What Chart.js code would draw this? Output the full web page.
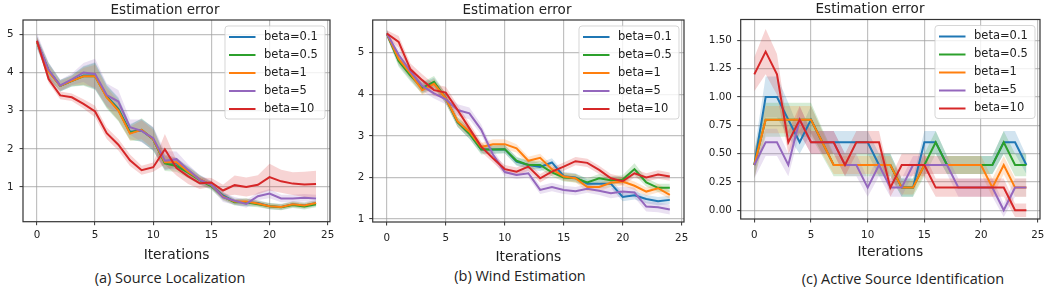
<!DOCTYPE html>
<html><head><meta charset="utf-8">
<script src="https://cdn.jsdelivr.net/npm/chart.js@4.4.1/dist/chart.umd.min.js"></script>
<style>
body{margin:0;background:#fff;width:1051px;height:298px;overflow:hidden;position:relative}
canvas{position:absolute;top:0}
.cap{position:absolute;font-family:'Open Sans',sans-serif;font-size:14.5px;color:#222;text-align:center;width:400px;line-height:20px;white-space:nowrap}
</style></head><body>
<canvas id="ca" width="350" height="266" style="left:0px"></canvas>
<canvas id="cb" width="350" height="266" style="left:350px"></canvas>
<canvas id="cc" width="351" height="266" style="left:700px"></canvas>
<div class="cap" style="left:-30px;top:268px">(a) Source Localization</div>
<div class="cap" style="left:320px;top:266px">(b) Wind Estimation</div>
<div class="cap" style="left:703px;top:269px">(c) Active Source Identification</div>
<script>
// ---------------- data ----------------
const iterations = [0,1,2,3,4,5,6,7,8,9,10,11,12,13,14,15,16,17,18,19,20,21,22,23,24];
const seriesNames = ['beta=0.1','beta=0.5','beta=1','beta=5','beta=10'];
const xTicks = [0,5,10,15,20,25];
const yTicksA = [1,2,3,4,5];
const yTicksB = [1,2,3,4,5];
const yTicksC = [0,0.25,0.5,0.75,1,1.25,1.5];
const yTickLabelsC = ['0.00','0.25','0.50','0.75','1.00','1.25','1.50'];

// (a) Source Localization
const aBlue   = [4.80,4.05,3.65,3.78,3.92,3.92,3.38,3.05,2.45,2.48,2.25,1.65,1.62,1.40,1.20,1.05,0.78,0.62,0.60,0.58,0.50,0.48,0.55,0.52,0.58];
const aGreen  = [4.80,4.05,3.65,3.78,3.90,3.90,3.36,3.02,2.42,2.50,2.25,1.62,1.55,1.38,1.18,1.02,0.75,0.60,0.60,0.55,0.50,0.47,0.53,0.49,0.55];
const aOrange = [4.80,4.02,3.65,3.78,3.90,3.90,3.35,3.00,2.40,2.50,2.25,1.65,1.65,1.40,1.20,1.05,0.75,0.62,0.62,0.57,0.50,0.48,0.55,0.52,0.58];
const aPurple = [4.83,4.07,3.66,3.82,4.00,3.96,3.41,3.24,2.57,2.47,2.28,1.69,1.73,1.45,1.19,1.06,0.73,0.64,0.56,0.76,0.83,0.70,0.70,0.72,0.70];
const aRed    = [4.83,3.83,3.40,3.35,3.18,2.98,2.41,2.11,1.70,1.44,1.52,1.99,1.50,1.28,1.10,1.12,0.91,1.05,1.00,1.06,1.26,1.15,1.09,1.07,1.08];
const aBlueStd   = [0.15,0.20,0.15,0.15,0.25,0.35,0.30,0.30,0.20,0.30,0.30,0.20,0.15,0.15,0.12,0.10,0.10,0.08,0.10,0.08,0.08,0.08,0.08,0.08,0.08];
const aGreenStd  = [0.15,0.20,0.15,0.15,0.25,0.35,0.30,0.30,0.20,0.30,0.30,0.20,0.15,0.15,0.12,0.10,0.10,0.08,0.10,0.08,0.08,0.08,0.08,0.08,0.08];
const aOrangeStd = [0.12,0.18,0.12,0.12,0.22,0.30,0.25,0.25,0.18,0.25,0.25,0.18,0.12,0.12,0.10,0.08,0.08,0.07,0.08,0.07,0.07,0.07,0.07,0.07,0.07];
const aPurpleStd = [0.20,0.20,0.15,0.15,0.25,0.40,0.30,0.30,0.20,0.30,0.30,0.25,0.20,0.15,0.12,0.10,0.12,0.10,0.10,0.10,0.12,0.10,0.10,0.10,0.10];
const aRedStd    = [0.10,0.10,0.10,0.10,0.12,0.15,0.15,0.15,0.15,0.12,0.12,0.40,0.20,0.20,0.15,0.12,0.15,0.25,0.25,0.25,0.35,0.30,0.30,0.33,0.35];

// (b) Wind Estimation
const bBlue   = [5.46,4.82,4.47,4.15,4.28,3.90,3.33,3.05,2.68,2.67,2.68,2.38,2.30,2.25,2.36,2.03,2.00,1.85,1.85,1.85,1.53,1.57,1.48,1.43,1.46];
const bGreen  = [5.46,4.80,4.45,4.15,4.30,3.90,3.33,3.05,2.67,2.67,2.68,2.40,2.30,2.30,2.12,2.00,1.98,1.88,1.98,1.93,1.95,2.20,1.88,1.75,1.75];
const bOrange = [5.46,4.85,4.50,4.10,4.25,3.90,3.35,3.10,2.73,2.80,2.80,2.70,2.40,2.47,2.20,2.02,1.98,1.77,1.77,1.87,1.90,1.80,1.66,1.74,1.58];
const bPurple = [5.46,4.95,4.55,4.20,4.02,3.88,3.62,3.54,3.15,2.55,2.13,2.06,2.10,1.70,1.77,1.70,1.67,1.73,1.68,1.62,1.66,1.64,1.30,1.28,1.23];
const bRed    = [5.46,5.26,4.60,4.34,4.10,4.04,3.62,3.18,2.74,2.46,2.20,2.14,2.26,1.98,2.14,2.26,2.39,2.35,2.18,1.98,1.91,2.10,2.00,2.07,2.02];
const bBlueStd   = [0.08,0.12,0.12,0.12,0.12,0.12,0.12,0.12,0.10,0.10,0.10,0.10,0.10,0.10,0.10,0.10,0.10,0.10,0.10,0.10,0.10,0.10,0.10,0.10,0.10];
const bGreenStd  = [0.08,0.14,0.14,0.14,0.14,0.12,0.12,0.12,0.12,0.10,0.10,0.10,0.10,0.10,0.10,0.10,0.10,0.10,0.10,0.10,0.10,0.14,0.10,0.10,0.10];
const bOrangeStd = [0.08,0.12,0.12,0.12,0.12,0.12,0.12,0.12,0.10,0.12,0.12,0.10,0.10,0.10,0.10,0.10,0.10,0.10,0.10,0.10,0.10,0.10,0.10,0.10,0.10];
const bPurpleStd = [0.10,0.12,0.12,0.12,0.12,0.12,0.14,0.14,0.12,0.12,0.10,0.10,0.10,0.10,0.10,0.10,0.10,0.10,0.10,0.12,0.12,0.12,0.12,0.12,0.12];
const bRedStd    = [0.08,0.14,0.14,0.14,0.14,0.14,0.12,0.12,0.12,0.10,0.10,0.10,0.10,0.10,0.10,0.10,0.10,0.10,0.10,0.10,0.10,0.10,0.10,0.10,0.10];

// (c) Active Source Identification
const cBlue   = [0.4,1.0,1.0,0.8,0.6,0.8,0.6,0.6,0.6,0.6,0.6,0.4,0.4,0.2,0.2,0.6,0.6,0.4,0.4,0.4,0.4,0.4,0.6,0.6,0.4];
const cGreen  = [0.4,0.8,0.8,0.8,0.8,0.8,0.6,0.4,0.4,0.4,0.4,0.4,0.4,0.2,0.2,0.4,0.6,0.4,0.4,0.4,0.4,0.4,0.6,0.4,0.4];
const cOrange = [0.4,0.8,0.8,0.8,0.8,0.8,0.6,0.4,0.4,0.4,0.4,0.4,0.4,0.2,0.2,0.4,0.4,0.4,0.4,0.4,0.4,0.2,0.4,0.2,0.2];
const cPurple = [0.4,0.6,0.6,0.4,0.8,0.6,0.6,0.6,0.4,0.4,0.2,0.4,0.2,0.2,0.4,0.4,0.4,0.4,0.2,0.2,0.2,0.2,0.0,0.2,0.2];
const cRed    = [1.2,1.4,1.2,0.6,0.8,0.6,0.6,0.6,0.4,0.6,0.6,0.6,0.2,0.4,0.4,0.4,0.2,0.2,0.2,0.2,0.2,0.2,0.2,0.0,0.0];
const cBlueStd   = [0.12,0.18,0.18,0.15,0.10,0.12,0.10,0.10,0.10,0.10,0.10,0.10,0.10,0.08,0.08,0.10,0.10,0.08,0.08,0.08,0.08,0.08,0.10,0.10,0.08];
const cGreenStd  = [0.12,0.15,0.15,0.15,0.15,0.15,0.12,0.10,0.10,0.10,0.10,0.10,0.10,0.08,0.08,0.10,0.10,0.08,0.08,0.08,0.08,0.08,0.10,0.10,0.10];
const cOrangeStd = [0.12,0.12,0.12,0.12,0.12,0.12,0.10,0.08,0.08,0.08,0.08,0.08,0.08,0.06,0.06,0.08,0.08,0.08,0.08,0.08,0.08,0.08,0.08,0.08,0.08];
const cPurpleStd = [0.12,0.12,0.12,0.10,0.12,0.10,0.10,0.10,0.10,0.10,0.08,0.10,0.08,0.08,0.08,0.08,0.08,0.08,0.08,0.08,0.08,0.08,0.06,0.08,0.08];
const cRedStd    = [0.15,0.20,0.18,0.10,0.12,0.10,0.10,0.10,0.10,0.10,0.10,0.10,0.08,0.10,0.10,0.10,0.08,0.08,0.08,0.08,0.08,0.08,0.08,0.06,0.06];

// ---------------- styling ----------------
const lineColors = ['#1f77b4','#2ca02c','#ff7f0e','#9467bd','#d62728'];
const bandColors = ['rgba(31,119,180,0.2)','rgba(44,160,44,0.2)','rgba(255,127,14,0.2)','rgba(148,103,189,0.2)','rgba(214,39,40,0.2)'];
const FONT = "'DejaVu Sans'";
const TXT = '#222';
const GRID = 'rgba(160,160,160,0.65)';

const framePlugin = {
  id: 'frameAndLegend',
  afterDraw(chart, args, o) {
    const {ctx, chartArea: a} = chart;
    ctx.save();
    ctx.strokeStyle = '#333';
    ctx.lineWidth = 1.2;
    ctx.strokeRect(a.left, a.top, a.right - a.left, a.bottom - a.top);
    // legend inside top-right
    const w = 100, h = 93;
    const x = a.right - 5.5 - w, y = a.top + 5.5;
    ctx.fillStyle = 'rgba(255,255,255,0.8)';
    ctx.strokeStyle = 'rgba(204,204,204,0.8)';
    ctx.lineWidth = 1;
    ctx.beginPath();
    if (ctx.roundRect) ctx.roundRect(x + 0.5, y + 0.5, w, h, 3); else ctx.rect(x + 0.5, y + 0.5, w, h);
    ctx.fill(); ctx.stroke();
    ctx.font = "11.5px " + FONT;
    ctx.textBaseline = 'middle';
    ctx.textAlign = 'left';
    seriesNames.forEach((name, i) => {
      const cy = y + 11.5 + i * 18;
      ctx.strokeStyle = lineColors[i];
      ctx.lineWidth = 2;
      ctx.beginPath(); ctx.moveTo(x + 4.5, cy); ctx.lineTo(x + 31, cy); ctx.stroke();
      ctx.fillStyle = TXT;
      ctx.fillText(name, x + 39.5, cy);
    });
    ctx.restore();
  }
};

function pts(vals) { return iterations.map((it, i) => ({x: it, y: vals[i]})); }

function buildDatasets(means, stds) {
  const ds = [];
  means.forEach((m, k) => {
    const s = stds[k];
    ds.push({data: pts(m.map((v, i) => v - s[i])), borderWidth: 0, pointRadius: 0, fill: false, order: 200 - k * 2});
    ds.push({data: pts(m.map((v, i) => v + s[i])), borderWidth: 0, pointRadius: 0, fill: '-1', backgroundColor: bandColors[k], order: 199 - k * 2});
  });
  means.forEach((m, k) => {
    ds.push({label: seriesNames[k], data: pts(m), borderColor: lineColors[k], borderWidth: 2, pointRadius: 0, fill: false, tension: 0, order: 10 - k});
  });
  return ds;
}

function makePanel(id, g, means, stds, yMin, yMax, yTicks, yLabels) {
  new Chart(document.getElementById(id), {
    type: 'line',
    data: {datasets: buildDatasets(means, stds)},
    plugins: [framePlugin],
    options: {
      responsive: false, animation: false, devicePixelRatio: 1,
      layout: {padding: {left: 0, right: g.padRight, top: 0, bottom: 0}},
      plugins: {
        legend: {display: false}, tooltip: {enabled: false},
        title: {display: true, text: 'Estimation error', color: TXT,
          font: {family: FONT, size: 13.5, weight: 'normal', lineHeight: 1.2},
          padding: {top: g.tPt, bottom: g.tPb}}
      },
      scales: {
        x: {
          type: 'linear', min: -1.2, max: 25.2,
          afterBuildTicks: s => { s.ticks = xTicks.map(v => ({value: v})); },
          afterFit: s => { s.height = g.xH; },
          ticks: {padding: g.xPad, color: TXT, autoSkip: false, maxRotation: 0,
            font: {family: FONT, size: 10.3}, callback: v => String(v)},
          grid: {color: GRID, lineWidth: 1.2, tickColor: '#333', tickLength: 3.5, tickWidth: 1},
          border: {display: false},
          title: {display: true, text: 'Iterations', color: TXT,
            font: {family: FONT, size: 13.8, lineHeight: 1.2}, padding: {top: 0, bottom: g.xtPb}}
        },
        y: {
          type: 'linear', min: yMin, max: yMax,
          afterBuildTicks: s => { s.ticks = yTicks.map(v => ({value: v})); },
          afterFit: s => { s.width = g.yW; },
          ticks: {padding: g.yPad, color: TXT, autoSkip: false,
            font: {family: FONT, size: 10.3}, callback: (v, i) => yLabels[i]},
          grid: {color: GRID, lineWidth: 1.2, tickColor: '#333', tickLength: 3.5, tickWidth: 1},
          border: {display: false}
        }
      }
    }
  });
}

makePanel('ca', {padRight: 20, yW: 23, tPt: 2.2, tPb: 1.6, xH: 44.3, xPad: 4, xtPb: 2.2, yPad: 6},
  [aBlue, aGreen, aOrange, aPurple, aRed], [aBlueStd, aGreenStd, aOrangeStd, aPurpleStd, aRedStd],
  0.093, 5.374, yTicksA, yTicksA.map(String));
makePanel('cb', {padRight: 16, yW: 22.7, tPt: 1.9, tPb: 1.9, xH: 44, xPad: 7, xtPb: 0, yPad: 5},
  [bBlue, bGreen, bOrange, bPurple, bRed], [bBlueStd, bGreenStd, bOrangeStd, bPurpleStd, bRedStd],
  0.928, 5.786, yTicksB, yTicksB.map(String));
makePanel('cc', {padRight: 11, yW: 40.7, tPt: 1.6, tPb: 1.7, xH: 47, xPad: 6.4, xtPb: 5.4, yPad: 5.4},
  [cBlue, cGreen, cOrange, cPurple, cRed], [cBlueStd, cGreenStd, cOrangeStd, cPurpleStd, cRedStd],
  -0.077, 1.684, yTicksC, yTickLabelsC);
</script>
</body></html>
